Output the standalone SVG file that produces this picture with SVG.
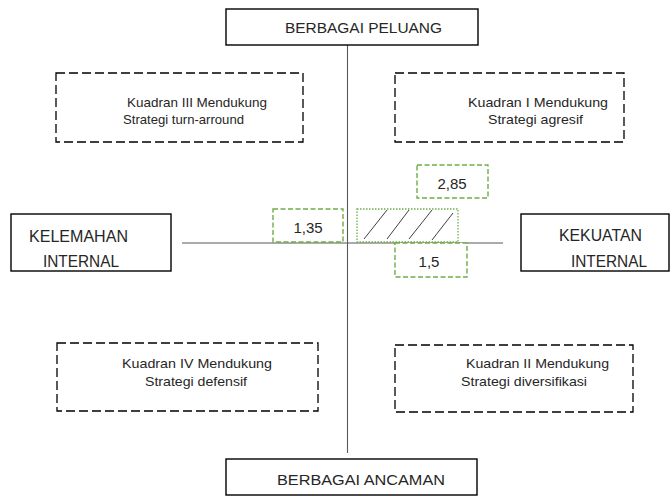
<svg xmlns="http://www.w3.org/2000/svg" width="672" height="497" viewBox="0 0 672 497">
<style>
text{font-family:"Liberation Sans",Arial,sans-serif;fill:#262626}
.solid{fill:#fff;stroke:#000;stroke-width:1.4}
.dash{fill:#fff;stroke:#000;stroke-width:1.3;stroke-dasharray:9 4}
.green{fill:#fff;stroke:#70AD47;stroke-width:1.4;stroke-dasharray:5 2.5}
.dots{fill:#fff;stroke:#70AD47;stroke-width:1.3;stroke-dasharray:1.5 1.5}
.axis{stroke:#595959;stroke-width:1.1;fill:none}
.hatch{stroke:#404040;stroke-width:1;fill:none}
.big{font-size:15px}
.lab{font-size:16px}
.q{font-size:13.5px}
.num{font-size:15px;text-anchor:middle}
</style>
<g id="connectors">
<line class="axis" x1="347.5" y1="45" x2="347.5" y2="453"/>
<line class="axis" x1="182" y1="243" x2="503" y2="243"/>
</g>
<g id="peluang"><rect class="solid" x="226" y="9" width="252" height="36"/><text class="big" x="285" y="33" textLength="157" lengthAdjust="spacingAndGlyphs">BERBAGAI PELUANG</text></g>
<g id="ancaman"><rect class="solid" x="226" y="459" width="251" height="36"/><text class="big" x="277" y="485" textLength="168" lengthAdjust="spacingAndGlyphs">BERBAGAI ANCAMAN</text></g>
<g id="kelemahan"><rect class="solid" x="11" y="214" width="160" height="57"/><text class="lab" x="29" y="242" textLength="99" lengthAdjust="spacingAndGlyphs">KELEMAHAN</text><text class="lab" x="43" y="267" textLength="76" lengthAdjust="spacingAndGlyphs">INTERNAL</text></g>
<g id="kekuatan"><rect class="solid" x="521" y="214" width="148" height="57"/><text class="lab" x="559" y="241" textLength="83" lengthAdjust="spacingAndGlyphs">KEKUATAN</text><text class="lab" x="571" y="267" textLength="76" lengthAdjust="spacingAndGlyphs">INTERNAL</text></g>
<g id="kuadran3"><rect class="dash" x="56" y="73" width="247" height="69"/><text class="q" x="127" y="107" textLength="140" lengthAdjust="spacingAndGlyphs">Kuadran III Mendukung</text><text class="q" x="123" y="124" textLength="121" lengthAdjust="spacingAndGlyphs">Strategi turn-arround</text></g>
<g id="kuadran1"><rect class="dash" x="395" y="73" width="229" height="69"/><text class="q" x="468" y="107" textLength="140" lengthAdjust="spacingAndGlyphs">Kuadran I Mendukung</text><text class="q" x="488" y="124" textLength="95" lengthAdjust="spacingAndGlyphs">Strategi agresif</text></g>
<g id="kuadran4"><rect class="dash" x="57" y="343" width="261" height="68"/><text class="q" x="122" y="368" textLength="150" lengthAdjust="spacingAndGlyphs">Kuadran IV Mendukung</text><text class="q" x="145" y="386" textLength="102" lengthAdjust="spacingAndGlyphs">Strategi defensif</text></g>
<g id="kuadran2"><rect class="dash" x="395" y="345" width="238" height="67"/><text class="q" x="466" y="368" textLength="143" lengthAdjust="spacingAndGlyphs">Kuadran II Mendukung</text><text class="q" x="461" y="386" textLength="126" lengthAdjust="spacingAndGlyphs">Strategi diversifikasi</text></g>
<g id="area"><rect class="dots" x="357" y="209" width="101" height="33"/>
<line class="hatch" x1="364" y1="239" x2="387" y2="210"/>
<line class="hatch" x1="387" y1="239" x2="409" y2="210"/>
<line class="hatch" x1="409" y1="239" x2="432" y2="210"/>
<line class="hatch" x1="432" y1="240" x2="453" y2="213"/></g>
<g id="v285"><rect class="green" x="417" y="165" width="71" height="33"/><text class="num" x="452" y="189">2,85</text></g>
<g id="v135"><rect class="green" x="273" y="209" width="70" height="33"/><text class="num" x="308" y="233">1,35</text></g>
<g id="v15"><rect class="green" x="395" y="243" width="72" height="34"/><text class="num" x="429" y="267">1,5</text></g>
</svg>
